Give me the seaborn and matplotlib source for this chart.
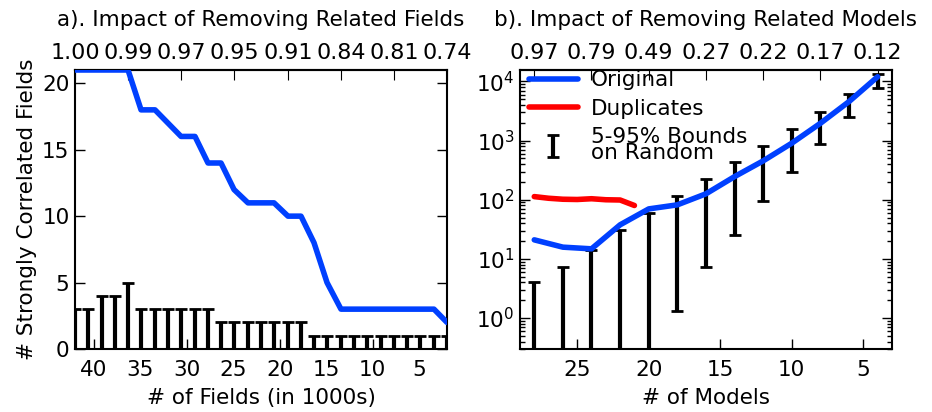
import numpy as np
import pandas as pd
import matplotlib
matplotlib.use("Agg")
import matplotlib.pyplot as plt
import seaborn as sns

# panel a: fields (in 1000s), strongly correlated fields
fields_k = [42.0, 40.6, 39.1, 37.7, 36.3, 34.9, 33.4, 32.0, 30.6, 29.1,
            27.7, 26.3, 24.9, 23.4, 22.0, 20.6, 19.1, 17.7, 16.3, 14.9,
            13.4, 12.0, 10.6, 9.1, 7.7, 6.3, 4.9, 3.4, 2.0]
orig_fields = [21, 21, 21, 21, 21, 18, 18, 17, 16, 16, 14, 14, 12, 11, 11,
               11, 10, 10, 8, 5, 3, 3, 3, 3, 3, 3, 3, 3, 2]
rand_fields_lo = [0] * 29
rand_fields_hi = [3, 3, 4, 4, 5, 3, 3, 3, 3, 3, 3, 2, 2, 2, 2, 2, 2, 2,
                  1, 1, 1, 1, 1, 1, 1, 1, 1, 1, 1]
top_fields_labels = ['1.00', '0.99', '0.97', '0.95', '0.91', '0.84', '0.81', '0.74']

# panel b: models
models = [28, 26, 24, 22, 20, 18, 16, 14, 12, 10, 8, 6, 4]
orig_models = [21, 15.8, 14.8, 37.7, 70, 82, 126, 246, 454, 904, 1960, 4560, 12000]
rand_models_lo = [0.1, 0.1, 0.1, 0.1, 0.1, 1.3, 7.3, 25.5, 96, 299, 863, 2480, 7750]
rand_models_hi = [4.0, 7.4, 14.3, 31, 59, 116, 225, 432, 800, 1550, 3000, 6200, 13300]
dup_models = [28, 27, 26, 25, 24, 23, 22, 21]
dup_vals = [113, 106, 102, 101, 104, 100, 99, 80]
top_models_labels = ['0.97', '0.79', '0.49', '0.27', '0.22', '0.17', '0.12']

sns.set_style('ticks')
plt.rcParams['font.family'] = ['DejaVu Sans']
plt.rcParams['mathtext.fontset'] = 'dejavusans'
plt.rcParams['text.color'] = 'black'
plt.rcParams['axes.labelcolor'] = 'black'
plt.rcParams['xtick.color'] = 'black'
plt.rcParams['ytick.color'] = 'black'

BLUE = '#0040ff'
FS = 15.5

fig = plt.figure(figsize=(9.32, 4.12), dpi=100)
ax1 = fig.add_axes([0.0805, 0.1529, 0.3991, 0.6772])
ax2 = fig.add_axes([0.5579, 0.1529, 0.3991, 0.6772])

for ax in (ax1, ax2):
    for s in ax.spines.values():
        s.set_linewidth(1.5)
        s.set_color('black')
    ax.tick_params(which='major', direction='in', length=7, width=1,
                   labelsize=FS, right=True, colors='black')
    ax.tick_params(axis='y', pad=4)
    ax.tick_params(axis='x', pad=8)
    ax.tick_params(which='minor', direction='in', length=3.5, width=1,
                   right=True, colors='black')

# ---- panel a
lo = np.array(rand_fields_lo)
hi = np.array(rand_fields_hi)
ax1.errorbar(fields_k, lo, yerr=[np.zeros(len(lo)), hi - lo], fmt='none',
             ecolor='black', elinewidth=3, capsize=4, capthick=2, zorder=2)
df_a = pd.DataFrame({'k': fields_k, 'n': orig_fields})
sns.lineplot(data=df_a, x='k', y='n', ax=ax1, color=BLUE, lw=4, zorder=3)
ax1.set_xlim(42, 2)
ax1.set_ylim(0, 21)
ax1.set_xticks([40, 35, 30, 25, 20, 15, 10, 5])
ax1.set_yticks([0, 5, 10, 15, 20])
ax1.set_xlabel('# of Fields (in 1000s)', fontsize=FS, labelpad=6)
ax1.set_ylabel('# Strongly Correlated Fields', fontsize=FS)
sec1 = ax1.secondary_xaxis('top')
sec1.set_xticks(fields_k[::4], labels=top_fields_labels)
sec1.tick_params(direction='in', length=7, labelsize=16, pad=5)
sec1.spines['top'].set_linewidth(1.5)
ax1.set_title('a). Impact of Removing Related Fields', fontsize=FS, pad=12.5)

# ---- panel b
lo_m = np.array(rand_models_lo)
hi_m = np.array(rand_models_hi)
eb = ax2.errorbar(models, lo_m, yerr=[np.zeros(len(lo_m)), hi_m - lo_m],
                  fmt='none', ecolor='black', elinewidth=3, capsize=4,
                  capthick=2, zorder=2, label='5-95% Bounds\non Random')
df_b = pd.DataFrame({'m': models, 'v': orig_models})
df_d = pd.DataFrame({'m': dup_models, 'v': dup_vals})
sns.lineplot(data=df_b, x='m', y='v', ax=ax2, color=BLUE, lw=4, zorder=3,
             label='Original')
sns.lineplot(data=df_d, x='m', y='v', ax=ax2, color='red', lw=4, zorder=3,
             label='Duplicates')
ax2.set_yscale('log')
ax2.set_xlim(29, 3)
ax2.set_ylim(0.3, 15600)
ax2.set_xticks([25, 20, 15, 10, 5])
ax2.set_xlabel('# of Models', fontsize=FS, labelpad=6)
ax2.set_ylabel('')
ax2.tick_params(which='major', direction='in', length=7, labelsize=FS, right=True)
sec2 = ax2.secondary_xaxis('top')
sec2.set_xticks(models[::2], labels=top_models_labels)
sec2.tick_params(direction='in', length=7, labelsize=16, pad=5)
sec2.spines['top'].set_linewidth(1.5)
ax2.set_title('b). Impact of Removing Related Models', fontsize=FS, pad=12.5)

h, l = ax2.get_legend_handles_labels()
order = [l.index('Original'), l.index('Duplicates'), l.index('5-95% Bounds\non Random')]
leg = ax2.legend([h[i] for i in order], [l[i] for i in order], loc='upper left',
                 bbox_to_anchor=(0.0, 1.03), frameon=False, fontsize=FS,
                 handlelength=2.3, handletextpad=0.6, labelspacing=0.4,
                 borderaxespad=0.1, borderpad=0.3)
for t in leg.get_texts():
    t.set_linespacing(0.75)

fig.savefig('out.png', dpi=100)
